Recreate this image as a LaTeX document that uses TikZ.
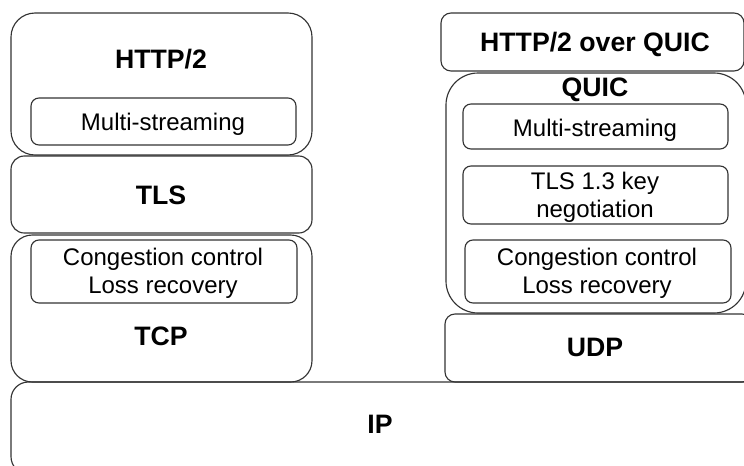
\documentclass[tikz,border=0pt]{standalone}
\usepackage{fontspec}
\setmainfont{Liberation Sans}
\tikzset{
  layer/.style={draw=black!80, line width=0.85pt},
  inner/.style={draw=black!80, line width=0.85pt, rounded corners=6pt},
  title/.style={font=\fontsize{20}{24}\selectfont\bfseries, inner sep=0pt, anchor=base},
  plain/.style={font=\fontsize{18}{21}\selectfont, inner sep=0pt, anchor=base},
  plain2/.style={font=\fontsize{18}{21}\selectfont, inner sep=0pt, align=center, anchor=center}
}
\begin{document}
\begin{tikzpicture}[x=0.75pt,y=-0.75pt]
\useasboundingbox (0,0) rectangle (744,465);
\clip (0,0) rectangle (744,465);
% left stack
\draw[layer, rounded corners=18pt] (11,13) rectangle (312,155);
\draw[inner] (31,98) rectangle (296,145);
\draw[layer, rounded corners=10pt] (11,156) rectangle (312,233);
\draw[layer, rounded corners=16pt] (11,235) rectangle (312,382);
\draw[inner] (31,240) rectangle (297,303);
% right stack
\draw[layer, rounded corners=7.5pt] (441,13) rectangle (744,71);
\draw[layer, rounded corners=24pt] (446,73) rectangle (746,313);
\draw[inner] (463,104) rectangle (728,149);
\draw[inner] (463,166) rectangle (728,224);
\draw[inner] (465,240) rectangle (731,303);
\draw[layer, rounded corners=7.5pt] (445,314) rectangle (752,382);
% IP
\draw[layer, rounded corners=13pt] (11,382) rectangle (760,474);
% labels
\node[title] (http) at (161,68) {HTTP/2};
\node[plain] (ms1) at (163,130) {Multi-streaming};
\node[title] (tls) at (161,204) {TLS};
\node[plain2] (cc1) at (163,273) {Congestion control\\Loss recovery};
\node[title] (tcp) at (161,345) {TCP};
\node[title] (hq) at (595,51) {HTTP/2 over QUIC};
\node[title] (quic) at (595,96) {QUIC};
\node[plain] (ms2) at (595,136) {Multi-streaming};
\node[plain2] (tls13) at (595,197) {TLS 1.3 key\\negotiation};
\node[plain2] (cc2) at (597,273) {Congestion control\\Loss recovery};
\node[title] (udp) at (595,356) {UDP};
\node[title] (ip) at (380,433) {IP};
\end{tikzpicture}
\end{document}
